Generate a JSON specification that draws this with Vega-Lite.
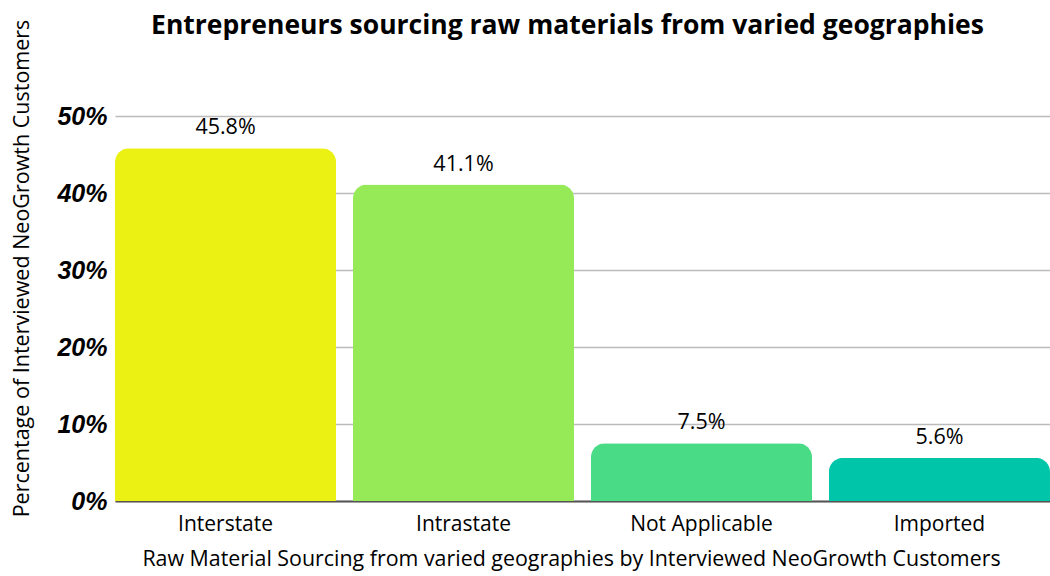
{
  "$schema": "https://vega.github.io/schema/vega-lite/v6.json",
  "width": 935,
  "height": 385,
  "autosize": {"type": "none"},
  "padding": {"left": 115, "top": 116, "right": 0, "bottom": 75},
  "background": "white",
  "title": {
    "text": "Entrepreneurs sourcing raw materials from varied geographies",
    "font": "Open Sans",
    "fontSize": 26.5,
    "fontWeight": "bold",
    "color": "#000000",
    "anchor": "middle",
    "dx": -15,
    "offset": -20
  },
  "data": {
    "values": [
      {"source": "Interstate", "share": 0.458},
      {"source": "Intrastate", "share": 0.411},
      {"source": "Not Applicable", "share": 0.075},
      {"source": "Imported", "share": 0.056}
    ]
  },
  "config": {
    "view": {"stroke": null},
    "font": "Open Sans"
  },
  "encoding": {
    "x": {
      "field": "source",
      "type": "nominal",
      "sort": null,
      "scale": {"paddingInner": 0.071, "paddingOuter": 0},
      "axis": {
        "title": "Raw Material Sourcing from varied geographies by Interviewed NeoGrowth Customers",
        "titleFont": "Open Sans",
        "titleFontSize": 21.4,
        "titleFontWeight": "normal",
        "titleColor": "#000000",
        "titlePadding": 14,
        "titleX": 456,
        "labelFont": "Open Sans",
        "labelFontSize": 21,
        "labelColor": "#000000",
        "labelAngle": 0,
        "labelPadding": 12,
        "ticks": false,
        "domainColor": "#555555",
        "domainWidth": 2
      }
    },
    "y": {
      "field": "share",
      "type": "quantitative",
      "scale": {"domain": [0, 0.5]},
      "axis": {
        "title": "Percentage of Interviewed NeoGrowth Customers",
        "titleFont": "Open Sans",
        "titleFontSize": 21.5,
        "titleFontWeight": "normal",
        "titleColor": "#000000",
        "titleX": -82,
        "titleY": 152,
        "values": [0, 0.1, 0.2, 0.3, 0.4, 0.5],
        "format": ".0%",
        "labelFont": "Liberation Sans",
        "labelFontSize": 25,
        "labelFontWeight": "bold",
        "labelFontStyle": "italic",
        "labelColor": "#000000",
        "labelPadding": 8,
        "ticks": false,
        "domain": false,
        "grid": true,
        "gridColor": "#bbbbbb",
        "gridWidth": 1.5
      }
    }
  },
  "layer": [
    {
      "mark": {"type": "bar", "cornerRadiusTopLeft": 14, "cornerRadiusTopRight": 14},
      "encoding": {
        "color": {
          "field": "source",
          "type": "nominal",
          "sort": null,
          "scale": {
            "domain": ["Interstate", "Intrastate", "Not Applicable", "Imported"],
            "range": ["#EBF113", "#96EA58", "#4ADB87", "#00C5A8"]
          },
          "legend": null
        }
      }
    },
    {
      "mark": {
        "type": "text",
        "baseline": "bottom",
        "dy": -9,
        "font": "Open Sans",
        "fontSize": 21.5,
        "color": "#000000"
      },
      "encoding": {
        "text": {"field": "share", "type": "quantitative", "format": ".1%"}
      }
    }
  ]
}
